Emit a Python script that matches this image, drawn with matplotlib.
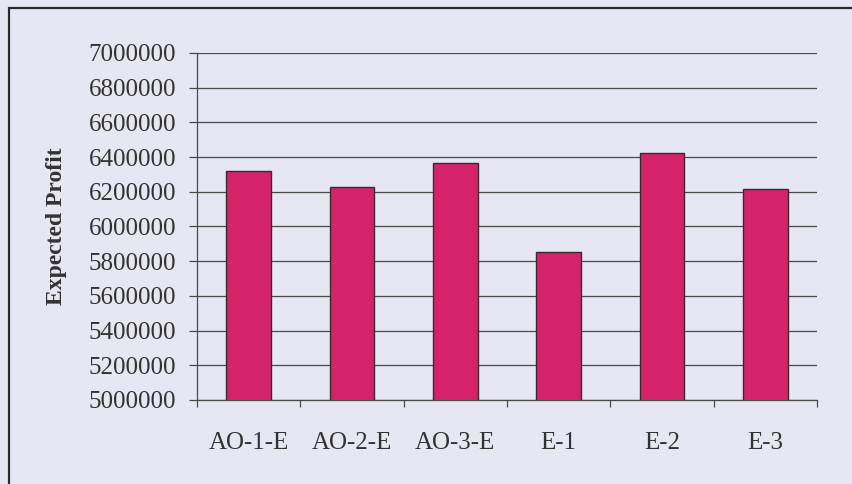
import numpy as np
import matplotlib.pyplot as plt
from matplotlib.patches import Rectangle
from matplotlib.ticker import MultipleLocator, FixedLocator, StrMethodFormatter

# Expected profit for each tool configuration
configs = ['AO-1-E', 'AO-2-E', 'AO-3-E', 'E-1', 'E-2', 'E-3']
profit = [6320000, 6228000, 6366000, 5853000, 6424000, 6216000]

bg = '#e7e7f3'
ink = '#333333'
bar_color = '#d42368'

plt.rcParams['font.family'] = ['Liberation Serif', 'DejaVu Serif']

fig = plt.figure(figsize=(8.52, 4.84), dpi=100, facecolor=bg)
ax = fig.add_axes([0.2312, 0.1736, 0.7278, 0.7169], facecolor=bg)

x = np.arange(len(configs))
ax.bar(x, profit, width=0.43, color=bar_color, edgecolor='#3a2a30',
       linewidth=1.0, zorder=3)

ax.set_xlim(-0.5, len(configs) - 0.5)
ax.set_ylim(5000000, 7000000)
ax.yaxis.set_major_locator(MultipleLocator(200000))
ax.yaxis.set_major_formatter(StrMethodFormatter('{x:.0f}'))
ax.grid(axis='y', color='#4a4a4a', linewidth=0.9, zorder=0)

# category labels centred under bars, tick marks on category boundaries
ax.set_xticks(x)
ax.set_xticklabels(configs)
ax.xaxis.set_minor_locator(FixedLocator(np.arange(-0.5, len(configs), 1.0)))
ax.tick_params(axis='x', which='major', length=0, pad=23, labelsize=18,
               labelcolor=ink)
ax.tick_params(axis='x', which='minor', length=5, width=0.9, color='#4a4a4a',
               direction='out')
ax.tick_params(axis='y', length=6, width=0.9, color='#4a4a4a', pad=9,
               labelsize=18, labelcolor=ink)

for side in ['top', 'right']:
    ax.spines[side].set_visible(False)
ax.spines['left'].set_color('#4a4a4a')
ax.spines['bottom'].set_color('#4a4a4a')
ax.spines['left'].set_linewidth(0.9)
ax.spines['bottom'].set_linewidth(0.9)

ax.set_ylabel('Expected Profit', fontsize=17, fontweight='bold', color=ink)
ax.yaxis.set_label_coords(-0.209, 0.5)

# outer chart frame running off the page edges
W, H = 852, 484
fig.patches.append(Rectangle((9 / W, -0.05), 1.1, 1 - 8 / H + 0.05,
                             transform=fig.transFigure, fill=False,
                             edgecolor='#2a2a2a', linewidth=1.6))

fig.savefig('out.png', dpi=100, facecolor=bg)
